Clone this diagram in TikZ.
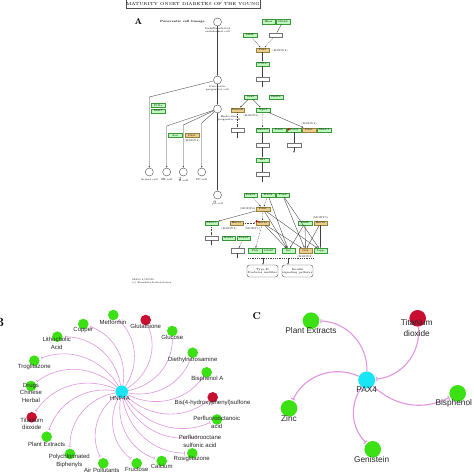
\documentclass[tikz,border=0pt]{standalone}
\usepackage{fontspec}
\newfontfamily\netfont{Liberation Sans}
\usetikzlibrary{arrows.meta}
\pgfdeclarelayer{bg}
\pgfdeclarelayer{paper}
\pgfsetlayers{paper,bg,main}
\definecolor{gnode}{RGB}{60,225,20}
\definecolor{rnode}{RGB}{200,15,50}
\definecolor{cnode}{RGB}{25,230,245}
\definecolor{pedge}{RGB}{225,150,225}
\definecolor{kgfill}{RGB}{190,250,190}
\definecolor{kgline}{RGB}{60,150,60}
\definecolor{kyfill}{RGB}{235,205,140}
\definecolor{kyline}{RGB}{150,130,60}
\begin{document}
\begin{tikzpicture}[x=1pt,y=-1pt,
 kg/.style={draw=kgline,fill=kgfill,minimum width=13.5pt,minimum height=4.5pt,inner sep=0pt,line width=0.3pt,font=\fontsize{2.6}{3}\selectfont},
 ky/.style={kg,fill=kyfill,draw=kyline},
 kw/.style={kg,fill=white,draw=black!55},
 kcell/.style={circle,draw=black!75,fill=white,minimum size=8pt,inner sep=0pt,line width=0.35pt},
 ktxt/.style={font=\fontsize{2.6}{2.9}\selectfont,align=center,inner sep=0pt},
 kar/.style={-{Latex[length=1.8pt,width=1.5pt]},line width=0.35pt,draw=black!75},
 kdsh/.style={kar,dash pattern=on 0.8pt off 0.8pt},
 kln/.style={line width=0.35pt,draw=black!75},
 kmark/.style={circle,fill=red!85!black,minimum size=2.6pt,inner sep=0pt},
 bn/.style={circle,minimum size=10.6pt,inner sep=0pt,fill=gnode},
 bnr/.style={bn,fill=rnode},
 blab/.style={font=\netfont\fontsize{6}{7.3}\selectfont,text=black!85,align=center,inner sep=0pt},
 bed/.style={draw=pedge,line width=0.6pt,-{Bar[width=3pt,line width=0.6pt]},shorten >=2pt,bend right=40},
 cn/.style={circle,minimum size=16.6pt,inner sep=0pt,fill=gnode},
 clab/.style={font=\netfont\fontsize{8.3}{10.5}\selectfont,text=black!85,align=center,inner sep=0pt},
 ced/.style={draw=pedge,line width=1.1pt,-{Bar[width=4.5pt,line width=1pt]},shorten >=1pt},
 plabel/.style={font=\bfseries\fontsize{#1}{#1}\selectfont,inner sep=0pt}
]
\begin{pgfonlayer}{paper}
\fill[white] (0,0) rectangle (474,474);
\end{pgfonlayer}
\useasboundingbox (0,0) rectangle (474,474);

% ---------------- Panel A ----------------
\node[draw=black!70,line width=0.4pt,minimum width=108pt,minimum height=9pt,inner sep=0pt,font=\fontsize{4.3}{5}\selectfont] (title) at (193,4) {MATURITY ONSET DIABETES OF THE YOUNG};
\node[plabel=8.5] (labA) at (138.5,21.5) {A};
\node[ktxt,font=\bfseries\fontsize{3}{3.5}\selectfont,anchor=east] (lin) at (205,22) {Pancreatic cell lineage};

\node[kcell] (c0) at (217.5,22) {};
\node[ktxt,anchor=north] (t0) at (217.5,27.5) {Undifferentiated\\endodermal cell};
\node[kcell] (c1) at (217.5,80) {};
\node[ktxt,anchor=north] (t1) at (217.5,85.5) {Pancreatic\\progenitor cell};
\node[kcell] (c2) at (217.5,109) {};
\node[ktxt,anchor=north] (t2) at (229,115.5) {Endocrine\\progenitor cell};
\node[kcell] (cA) at (149.3,172) {};
\node[ktxt,anchor=north] (tA) at (149.3,178) {Acinar cell};
\node[kcell] (ca) at (166.7,172) {};
\node[ktxt,anchor=north] (ta) at (166.7,178) {$\alpha$-cell};
\node[kcell] (cd) at (183.3,172) {};
\node[ktxt,anchor=north] (td) at (183.3,178) {$\delta$-cell};
\node[kcell] (cp) at (201.7,172) {};
\node[ktxt,anchor=north] (tp) at (201.7,178) {PP-cell};
\node[kcell] (cb) at (217.5,195) {};
\node[ktxt,anchor=north] (tb) at (217.5,201) {$\beta$-cell};

\coordinate (kA) at (149.3,97);
\coordinate (ka) at (166.7,126);
\coordinate (kd) at (183.3,125);
\coordinate (kp) at (201.7,123);
\draw[kar] (c0) -- (c1);
\draw[kar] (c1) -- (c2);
\draw[kar] (c1) -- (kA) -- (cA);
\draw[kar] (c2) -- (ka) -- (ca);
\draw[kar] (c2) -- (kd) -- (cd);
\draw[kar] (c2) -- (kp) -- (cp);
\draw[kar] (c2) -- (cb);

\node[kg] (g1) at (158.3,105.3) {Ptf1a};
\node[kg] (g2) at (158.3,111) {Mist1};
\node[kg] (g3) at (175,135.3) {Arx};
\node[ky] (g4) at (192,135.3) {Pdx1};
\node[ktxt] (g4t) at (192,140.5) {(MODY4)};

% cascade
\node[kg] (r1) at (268.5,21.5) {Hhex};
\node[kg] (r2) at (283,21.5) {Hlxb9};
\node[kg] (r3) at (250,35) {Hnf6};
\node[kw] (r4) at (275.5,35) {};
\node[ky] (r5) at (262.5,50) {Pdx1};
\node[ktxt] (r5t) at (280,50.5) {(MODY4)};
\node[kg] (r6) at (262.5,64) {Ptf1a};
\node[kw] (r7) at (262.5,79) {};
\coordinate (r7e) at (262.5,87.5);
\node[kg] (r8) at (250.5,97) {Sox9};
\node[kg] (r9) at (276,97) {Hnf1b};
\node[ky] (r10) at (237.5,110) {NeuroD};
\node[ktxt] (r10t) at (251,116) {(MODY6)};
\node[kg] (r11) at (263,110) {Ngn3};
\node[kw] (r12) at (237.5,130) {};
\coordinate (r12e) at (237.5,138.5);
\node[kg] (r13) at (262.5,130) {Nkx2.2};
\node[kg] (r14) at (279,130) {Pax6};
\node[kg] (r15) at (294,130) {Pax4};
\node[ky] (r16) at (309,130) {Pdx1};
\node[kg] (r17) at (324,130) {Nkx6.1};
\node[kmark] (m1) at (288.5,129.3) {};
\node[ktxt] (r16t) at (309,124.3) {(MODY4)};
\node[kw] (r18) at (262.5,145) {};
\node[kw] (r19) at (294,145) {};
\coordinate (r19e) at (294,153);
\node[kg] (r20) at (262.5,160) {Isl1};
\node[kw] (r21) at (262.5,174) {};
\coordinate (r21e) at (262.5,182.5);

\draw[kln] (r2) -- (r4);
\draw[kdsh] (r3) -- (r5);
\draw[kdsh] (r4) -- (r5);
\draw[kar] (r5) -- (r6);
\draw[kln] (r6) -- (r7);
\draw[kar] (r7) -- (r7e);
\draw[kar] (r8) -- (r10);
\draw[kar] (r8) -- (r11);
\draw[kdsh] (r10) -- (r12);
\draw[kar] (r12) -- (r12e);
\draw[kdsh] (r11) -- (r13);
\draw[kar] (r11) -- (r16);
\draw[kln] (r13) -- (r18);
\draw[kar] (r18) -- (r20);
\draw[kln] (r15) -- (r19);
\draw[kar] (r19) -- (r19e);
\draw[kln] (r20) -- (r21);
\draw[kar] (r21) -- (r21e);

% lower block
\node[kg] (r22) at (250.5,195) {Foxa2};
\node[kg] (r23) at (268,195) {MafA};
\node[kg] (r24) at (282.7,195) {Pax6};
\node[ky] (r25) at (263,209) {Pdx1};
\node[ktxt,anchor=east] (r25t) at (255.5,208.5) {(MODY4)};
\node[kg] (r26) at (211.5,223) {Nkx6.1};
\node[ky] (r27) at (236.5,223) {Hnf1a};
\node[ktxt] (r27t) at (229,228.5) {(MODY3)};
\node[ky] (r28) at (262.5,223) {Hnf4a};
\node[kmark] (m2) at (256.7,221.3) {};
\node[ktxt] (r28t) at (252.5,228.5) {(MODY1)};
\node[kg] (r29) at (305,223) {Hnf6};
\node[ky] (r30) at (320.5,223) {Hnf1b};
\node[ktxt] (r30t) at (320.5,217.5) {(MODY5)};
\node[kw] (r31) at (211.5,238) {};
\coordinate (r31e) at (211.5,245.5);
\node[kg] (r32) at (228.8,238) {Hnf4a};
\node[kg] (r33) at (243.7,238) {Foxa2};
\node[kw] (r34) at (237.5,250.5) {};
\coordinate (r34e) at (237.5,258.5);
\node[kg] (r35) at (255,250.5) {Pklr};
\node[kg] (r36) at (268.5,250.5) {Glut2};
\node[kg] (r37) at (288.5,250.5) {Ins};
\node[ky] (r38) at (305.5,250.5) {Gck};
\node[kg] (r39) at (320.5,250.5) {Iapp};
\node[ktxt] (r38t) at (305,256.5) {(MODY2)};

\draw[kdsh] (r22) -- (r25);
\draw[kdsh] (r23) -- (r25);
\draw[kar] (r23) -- (r37);
\draw[kar] (r24) -- (r38);
\draw[kar] (r24) -- (r39);
\draw[kar] (r25) -- (r26);
\draw[kdsh] (r25) -- (r28);
\draw[kar] (r25) -- (r37);
\draw[kar] (r25) -- (r39);
\draw[kdsh] (r27) -- (r28);
\draw[kdsh] (r26) -- (r31);
\draw[kar] (r31) -- (r31e);
\draw[kdsh] (r33) -- (r34);
\draw[kar] (r34) -- (r34e);
\draw[kdsh] (r28) -- (r35);
\draw[kar] (r28) -- (r37);
\draw[kar] (r28) -- (r38);
\draw[kar] (r29) -- (r37);
\draw[kar] (r29) -- (r38);
\draw[kar] (r30) -- (r39);
\draw[kar] (r30) -- (r38);

\node[draw=black!70,line width=0.4pt,rounded corners=2.5pt,minimum width=31pt,minimum height=12pt,inner sep=0pt,font=\fontsize{2.8}{3.3}\selectfont,align=center] (rb1) at (262.5,271) {Type II\\Diabetes mellitus};
\node[draw=black!70,line width=0.4pt,rounded corners=2.5pt,minimum width=31pt,minimum height=12pt,inner sep=0pt,font=\fontsize{2.8}{3.3}\selectfont,align=center] (rb2) at (297.5,271) {Insulin\\signaling pathway};
\coordinate (d1) at (248,258);
\coordinate (d2) at (313,258);
\coordinate (d3) at (263,258);
\coordinate (d4) at (288,258);
\draw[kln,dash pattern=on 1pt off 0.8pt] (d1) -- (d2);
\draw[kar] (d3) -- (d3 |- rb1.north);
\draw[kar] (d4) -- (d4 |- rb2.north);

\node[ktxt,anchor=north west,align=left,font=\fontsize{2.5}{3}\selectfont] (foot) at (132,278) {04950 4/23/20\\(c) Kanehisa Laboratories};

% ---------------- Panel B ----------------
\node[plabel=12,anchor=east] (labB) at (4.5,322) {B};
\node[circle,fill=cnode,minimum size=12.6pt,inner sep=0pt] (hnf) at (121.7,391.7) {};
\node[bn] (met) at (113.3,315) {};
\node[bnr] (glu) at (145.7,320) {};
\node[bn] (cop) at (83.3,324) {};
\node[bn] (glc) at (172.3,331) {};
\node[bn] (lit) at (57.3,336.7) {};
\node[bn] (den) at (192.7,352.7) {};
\node[bn] (tro) at (34.3,360.7) {};
\node[bn] (bis) at (206.7,372.3) {};
\node[bn] (dch) at (31,386) {};
\node[bnr] (bhs) at (212.7,397.3) {};
\node[bnr] (tio) at (31.7,417.3) {};
\node[bn] (pfoa) at (217,419.5) {};
\coordinate (pfos) at (199,436);
\node[bn] (pla) at (46.7,436.7) {};
\node[bn] (pcb) at (70,454) {};
\node[bn] (air) at (103.3,463.3) {};
\node[bn] (fru) at (136.7,463.3) {};
\node[bn] (cal) at (161.7,461) {};
\node[bn] (ros) at (192.3,453.3) {};

\begin{pgfonlayer}{bg}
\foreach \t in {met,glu,cop,glc,lit,den,tro,bis,dch,bhs,tio,pfoa,pfos,pla,pcb,air,fru,cal,ros}
  \draw[bed] (hnf) to (\t);
\end{pgfonlayer}

\node[blab] (lhnf) at (120,398) {HNF4A};
\node[blab] (lmet) at (113,322.5) {Metformin};
\node[blab] (lglu) at (145.7,326.5) {Glutathione};
\node[blab] (lcop) at (83.3,330.5) {Copper};
\node[blab] (lglc) at (172.3,337.5) {Glucose};
\node[blab] (llit) at (56.7,343.5) {Lithocholic\\Acid};
\node[blab] (lden) at (192.7,360) {Diethylnitrosamine};
\node[blab] (ltro) at (34.3,367) {Troglitazone};
\node[blab] (lbis) at (207.3,379.3) {Bisphenol A};
\node[blab] (ldch) at (31,392.7) {Drugs\\Chinese\\Herbal};
\node[blab] (lbhs) at (212.5,403.3) {Bis(4-hydroxyphenyl)sulfone};
\node[blab] (ltio) at (31.7,423.7) {Titanium\\dioxide};
\node[blab] (lpfoa) at (216.7,422.2) {Perfluorooctanoic\\acid};
\node[blab] (lpfos) at (200,441.3) {Perfluorooctane\\sulfonic acid};
\node[blab] (lpla) at (46.7,444) {Plant Extracts};
\node[blab] (lpcb) at (69.3,460.8) {Polychlorinated\\Biphenyls};
\node[blab] (lair) at (101.7,470) {Air Pollutants};
\node[blab] (lfru) at (136.7,469.3) {Fructose};
\node[blab] (lcal) at (161.7,466.7) {Calcium};
\node[blab] (lros) at (191.7,459.3) {Rosiglitazone};

% ---------------- Panel C ----------------
\node[plabel=10] (labC) at (256.7,316) {C};
\node[cn,fill=cnode,minimum size=17pt] (pax) at (366.7,380) {};
\node[cn] (cpla) at (311,320.7) {};
\node[cn,fill=rnode] (ctio) at (417.7,318.3) {};
\node[cn] (cbis) at (457.7,393.3) {};
\node[cn] (czin) at (289,408.3) {};
\node[cn] (cgen) at (372.7,449.3) {};
\begin{pgfonlayer}{bg}
\draw[ced,bend right=45] (pax) to (cpla);
\draw[ced,bend left=45] (ctio) to (pax);
\draw[ced,bend right=45] (pax) to (czin);
\draw[ced,bend right=40] (pax) to (cgen);
\draw[ced,bend right=35] (pax) to (cbis);
\end{pgfonlayer}
\node[clab] (lpax) at (366.7,390) {PAX4};
\node[clab] (lcpla) at (311,330.7) {Plant Extracts};
\node[clab] (lctio) at (416.7,328) {Titanium\\dioxide};
\node[clab] (lcbis) at (453.8,403.3) {Bisphenol};
\node[clab] (lczin) at (289,418.3) {Zinc};
\node[clab] (lcgen) at (371.7,459.3) {Genistein};
\end{tikzpicture}
\end{document}
